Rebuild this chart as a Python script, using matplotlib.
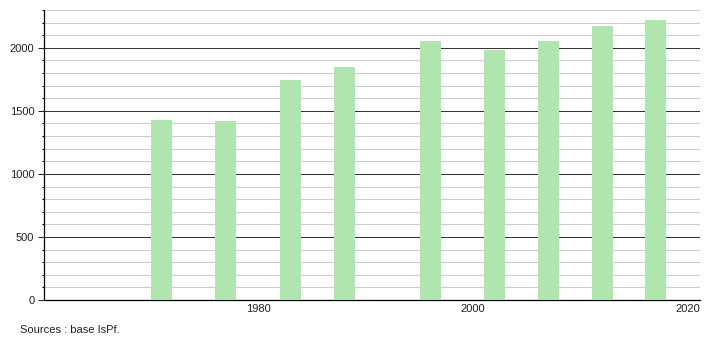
import matplotlib.pyplot as plt
from matplotlib.ticker import MultipleLocator

# Data
years = [1971, 1977, 1983, 1988, 1996, 2002, 2007, 2012, 2017]
population = [1424, 1416, 1743, 1847, 2052, 1981, 2051, 2172, 2220]
xticks = [1980, 2000, 2020]

plt.rcParams['font.family'] = ['Liberation Sans', 'DejaVu Sans']

fig = plt.figure(figsize=(7.1, 3.4), dpi=100)
ax = fig.add_axes([44/710, 40/340, 656/710, 290/340])

ax.bar(years, population, width=1.95, color='#b0e5b0', zorder=3)

ax.set_xlim(1960.09, 2021.1)
ax.set_ylim(0, 2300)

ax.yaxis.set_major_locator(MultipleLocator(500))
ax.yaxis.set_minor_locator(MultipleLocator(100))
ax.grid(which='major', axis='y', color='#333333', lw=0.75, zorder=1)
ax.grid(which='minor', axis='y', color='#cccccc', lw=0.75, zorder=0)
ax.grid(axis='x', visible=False)

ax.set_xticks(xticks)
ax.tick_params(axis='x', length=0, labelsize=8, pad=3, colors='#222222')
ax.tick_params(axis='y', which='major', length=4, width=0.75, labelsize=8, colors='#222222', pad=3)
ax.tick_params(axis='y', which='minor', length=1.8, width=0.75)

for s in ['top', 'right']:
    ax.spines[s].set_visible(False)
ax.spines['left'].set_linewidth(0.9)
ax.spines['bottom'].set_linewidth(0.9)

fig.text(20/710, 1 - 330/340, 'Sources : base IsPf.', fontsize=8, color='#222222', va='center')

fig.savefig('out.png', dpi=100)
